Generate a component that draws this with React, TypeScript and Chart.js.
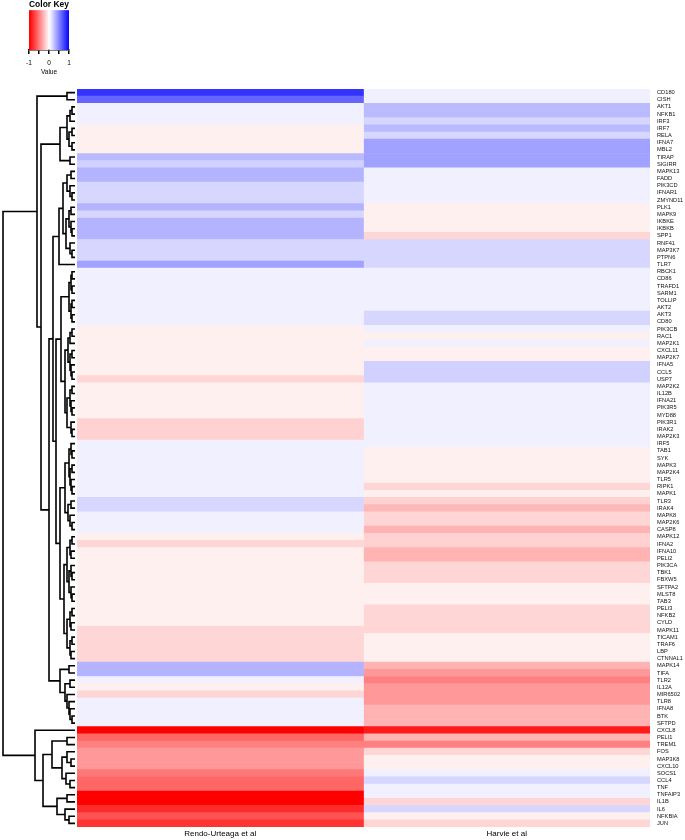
import React, { useEffect, useRef } from "react";
import { Chart, registerables } from "chart.js";
Chart.register(...registerables);

const FONT = "'Liberation Sans', Arial, Helvetica, sans-serif";

const genes = [
  "CD180", "CISH", "AKT1", "NFKB1", "IRF3", "IRF7", "RELA", "IFNA7", "MBL2", "TIRAP",
  "SIGIRR", "MAPK13", "FADD", "PIK3CD", "IFNAR1", "ZMYND11", "PLK1", "MAPK9", "IKBKE", "IKBKB",
  "SPP1", "RNF41", "MAP3K7", "PTPN6", "TLR7", "RBCK1", "CD86", "TRAFD1", "SARM1", "TOLLIP",
  "AKT2", "AKT3", "CD80", "PIK3CB", "RAC1", "MAP2K1", "CXCL11", "MAP2K7", "IFNA5", "CCL5",
  "USP7", "MAP2K2", "IL12B", "IFNA21", "PIK3R5", "MYD88", "PIK3R1", "IRAK2", "MAP2K3", "IRF5",
  "TAB1", "SYK", "MAPK3", "MAP2K4", "TLR5", "RIPK1", "MAPK1", "TLR3", "IRAK4", "MAPK8",
  "MAP2K6", "CASP8", "MAPK12", "IFNA2", "IFNA10", "PELI2", "PIK3CA", "TBK1", "FBXW5", "SFTPA2",
  "MLST8", "TAB3", "PELI3", "NFKB2", "CYLD", "MAPK11", "TICAM1", "TRAF6", "LBP", "CTNNAL1",
  "MAPK14", "TIFA", "TLR2", "IL12A", "MIR6502", "TLR8", "IFNA8", "BTK", "SFTPD", "CXCL8",
  "PELI1", "TREM1", "FOS", "MAP3K8", "CXCL10", "SOCS1", "CCL4", "TNF", "TNFAIP3", "IL1B",
  "IL6", "NFKBIA", "JUN",
];

const rendoValues = [
  0.8, 0.6, 0.06, 0.06, 0.06, -0.06, -0.06, -0.06, -0.06, 0.27,
  0.18, 0.3, 0.3, 0.16, 0.16, 0.16, 0.3, 0.16, 0.3, 0.3,
  0.3, 0.16, 0.16, 0.16, 0.37, 0.06, 0.06, 0.06, 0.06, 0.06,
  0.06, 0.06, 0.06, -0.06, -0.06, -0.06, -0.06, -0.06, -0.06, -0.06,
  -0.16, -0.06, -0.06, -0.06, -0.06, -0.06, -0.18, -0.18, -0.18, 0.06,
  0.06, 0.06, 0.06, 0.06, 0.06, 0.06, 0.06, 0.16, 0.16, 0.06,
  0.06, 0.06, -0.06, -0.16, -0.06, -0.06, -0.06, -0.06, -0.06, -0.06,
  -0.06, -0.06, -0.06, -0.06, -0.06, -0.16, -0.16, -0.16, -0.16, -0.16,
  0.3, 0.3, 0.06, -0.06, -0.16, 0.06, 0.06, 0.06, 0.06, -1.0,
  -0.6, -0.5, -0.4, -0.4, -0.4, -0.53, -0.6, -0.6, -1.0, -1.0,
  -0.83, -0.68, -0.8,
];

const harvieValues = [
  0.06, 0.06, 0.27, 0.27, 0.16, 0.27, 0.16, 0.37, 0.37, 0.37,
  0.37, 0.06, 0.06, 0.06, 0.06, 0.06, -0.06, -0.06, -0.06, -0.06,
  -0.16, 0.16, 0.16, 0.16, 0.16, 0.06, 0.06, 0.06, 0.06, 0.06,
  0.06, 0.16, 0.16, 0.06, -0.06, 0.06, -0.06, -0.06, 0.18, 0.18,
  0.18, 0.06, 0.06, 0.06, 0.06, 0.06, 0.06, 0.06, 0.06, 0.06,
  -0.06, -0.06, -0.06, -0.06, -0.06, -0.16, -0.06, -0.18, -0.28, -0.16,
  -0.16, -0.3, -0.18, -0.18, -0.3, -0.3, -0.16, -0.16, -0.16, -0.06,
  -0.06, -0.06, -0.16, -0.16, -0.16, -0.16, -0.06, -0.06, -0.06, -0.06,
  -0.3, -0.4, -0.5, -0.4, -0.4, -0.4, -0.3, -0.3, -0.3, -0.9,
  -0.3, -0.5, -0.16, -0.06, -0.06, 0.06, 0.16, 0.06, 0.06, -0.16,
  0.16, -0.06, -0.16,
];

const columnLabels = ["Rendo-Urteaga et al", "Harvie et al"];
const keyTicks = [-1, -0.5, 0, 0.5, 1];
const keyTickLabels = ["-1", "", "0", "", "1"];

// Row dendrogram: [height, child, child]; leaves are row numbers (1-based)
type TreeNode = number | [number, TreeNode, TreeNode];
const rowTree: TreeNode = [72,
  [38,
    [8, 1, 2],
    [34,
      [15,
        [8, [5, [3, 3, 4], 5], [6, [3, 6, 7], [3, 8, 9]]],
        [5, 10, 11]],
      [26,
        [22,
          [16,
            [12,
              [8, [4, 12, 13], [5, 14, [3, 15, 16]]],
              [9, [6, [4, 17, 18], [4, 19, [3, 20, 21]]], [5, 22, [3, 23, 24]]]],
            25],
          [19,
            [14,
              [6, [4, [3, 26, 27], [3, 28, 29]], [4, [3, 30, 31], [3, 32, 33]]],
              [10,
                [7, [5, [3, 34, 35], 36], [5, [3, 37, 38], [4, 39, [3, 40, 41]]]],
                [8, [5, [3, 42, 43], [4, 44, [3, 45, 46]]], [4, 47, [3, 48, 49]]]]],
            [15,
              [10,
                [6, [4, 50, [3, 51, 52]], [5, [3, 53, 54], [4, 55, [3, 56, 57]]]],
                [7, [4, 58, 59], [5, 60, [3, 61, 62]]]],
              [11,
                [8, [5, [3, 63, 64], [4, 65, 66]], [6, [4, 67, [3, 68, 69]], [4, 70, [3, 71, 72]]]],
                [8, [5, [3, 73, 74], [4, 75, 76]], [5, [3, 77, 78], [4, 79, 80]]]]]]],
        [15,
          [6, 81, 82],
          [10, [5, 83, 84], [8, 85, [6, 86, [5, 87, [3, 88, 89]]]]]]]]],
  [40,
    90,
    [32,
      [23, [8, 91, 92], [13, [8, 93, [4, 94, 95]], [9, 96, [5, 97, 98]]]],
      [18, [8, 99, 100], [10, 101, [6, 102, 103]]]]]];

function valueColor(v: number): string {
  const t = Math.max(-1, Math.min(1, v));
  if (t >= 0) {
    const c = Math.round(255 * (1 - t));
    return `rgb(${c},${c},255)`;
  }
  const c = Math.round(255 * (1 + t));
  return `rgb(255,${c},${c})`;
}

type Pt = { x: number; y: number };
function collectLinks(node: TreeNode, out: Pt[][]): Pt {
  if (typeof node === "number") return { x: 0, y: node };
  const [h, a, b] = node;
  const pa = collectLinks(a, out);
  const pb = collectLinks(b, out);
  out.push([
    { x: pa.x, y: pa.y },
    { x: h, y: pa.y },
    { x: h, y: pb.y },
    { x: pb.x, y: pb.y },
  ]);
  return { x: h, y: (pa.y + pb.y) / 2 };
}

export default function App() {
  const heatRef = useRef<HTMLCanvasElement>(null);
  const dendroRef = useRef<HTMLCanvasElement>(null);
  const keyRef = useRef<HTMLCanvasElement>(null);

  useEffect(() => {
    const charts: Chart[] = [];

    const common = {
      barPercentage: 1,
      categoryPercentage: 1,
      grouped: false,
      borderWidth: 0,
    };

    charts.push(
      new Chart(heatRef.current!, {
        type: "bar",
        data: {
          labels: genes,
          datasets: [
            { data: genes.map(() => [0, 1]), backgroundColor: rendoValues.map(valueColor), ...common } as any,
            { data: genes.map(() => [1, 2]), backgroundColor: harvieValues.map(valueColor), ...common } as any,
          ],
        },
        options: {
          responsive: false,
          animation: false,
          indexAxis: "y",
          layout: { padding: { left: 77, top: 89, right: 0, bottom: 0 } },
          plugins: { legend: { display: false }, tooltip: { enabled: false } },
          scales: {
            x: {
              type: "linear",
              position: "bottom",
              min: 0,
              max: 2,
              afterBuildTicks: (s: any) => {
                s.ticks = [{ value: 0.5 }, { value: 1.5 }];
              },
              afterFit: (s: any) => {
                s.height = 13;
              },
              grid: { display: false, drawTicks: false },
              border: { display: false },
              ticks: {
                callback: (_v: any, i: number) => columnLabels[i],
                font: { size: 8, family: FONT },
                color: "#000",
                padding: 1.5,
                autoSkip: false,
                maxRotation: 0,
              },
            },
            y: {
              type: "category",
              position: "right",
              afterFit: (s: any) => {
                s.width = 35;
              },
              grid: { display: false, drawTicks: false },
              border: { display: false },
              ticks: {
                autoSkip: false,
                font: { size: 5.7, family: FONT },
                color: "#111",
                padding: 7,
              },
            },
          },
        },
      } as any)
    );

    const links: Pt[][] = [];
    collectLinks(rowTree, links);
    charts.push(
      new Chart(dendroRef.current!, {
        type: "scatter",
        data: {
          datasets: links.map((l) => ({
            data: l,
            showLine: true,
            borderColor: "#000",
            borderWidth: 1.6,
            pointRadius: 0,
            tension: 0,
            clip: 4,
          })),
        },
        options: {
          responsive: false,
          animation: false,
          layout: { padding: { left: 3, right: 610, top: 89, bottom: 13 } },
          plugins: { legend: { display: false }, tooltip: { enabled: false } },
          scales: {
            x: { type: "linear", reverse: true, min: 0, max: 72, display: false },
            y: { type: "linear", reverse: true, min: 0.5, max: 103.5, display: false },
          },
        },
      } as any)
    );

    const bands: number[] = [];
    for (let i = 0; i < 40; i++) bands.push(-1 + i * 0.05);
    charts.push(
      new Chart(keyRef.current!, {
        type: "bar",
        data: {
          labels: ["key"],
          datasets: bands.map((b) => ({
            data: [[b, b + 0.05]],
            backgroundColor: valueColor(b + 0.025),
            ...common,
          })),
        },
        options: {
          responsive: false,
          animation: false,
          indexAxis: "y",
          layout: { padding: { left: 29, right: 31, top: 0, bottom: 0 } },
          plugins: {
            legend: { display: false },
            tooltip: { enabled: false },
            title: {
              display: true,
              text: "Color Key",
              color: "#000",
              font: { size: 8.5, weight: "bold", family: FONT },
              padding: { top: 0, bottom: 0 },
            },
          },
          scales: {
            x: {
              type: "linear",
              min: -1,
              max: 1,
              afterBuildTicks: (s: any) => {
                s.ticks = keyTicks.map((v) => ({ value: v }));
              },
              afterFit: (s: any) => {
                s.height = 30;
              },
              grid: { drawOnChartArea: false, drawTicks: true, tickLength: 4, color: "#000", lineWidth: 1.5 },
              border: { display: true, color: "#000", width: 1.5 },
              ticks: {
                callback: (_v: any, i: number) => keyTickLabels[i],
                font: { size: 6.5, family: FONT },
                color: "#000",
                padding: 5,
                autoSkip: false,
                maxRotation: 0,
              },
              title: {
                display: true,
                text: "Value",
                color: "#000",
                font: { size: 6.5, family: FONT },
                padding: { top: 0, bottom: 4 },
              },
            },
            y: { display: false },
          },
        },
      } as any)
    );

    return () => charts.forEach((c) => c.destroy());
  }, []);

  return (
    <div style={{ position: "absolute", left: 0, top: 0, width: 685, height: 840, background: "#fff" }}>
      <canvas ref={heatRef} width={685} height={840} style={{ position: "absolute", left: 0, top: 0 }} />
      <canvas ref={dendroRef} width={685} height={840} style={{ position: "absolute", left: 0, top: 0 }} />
      <canvas ref={keyRef} width={100} height={80} style={{ position: "absolute", left: 0, top: 0 }} />
    </div>
  );
}
